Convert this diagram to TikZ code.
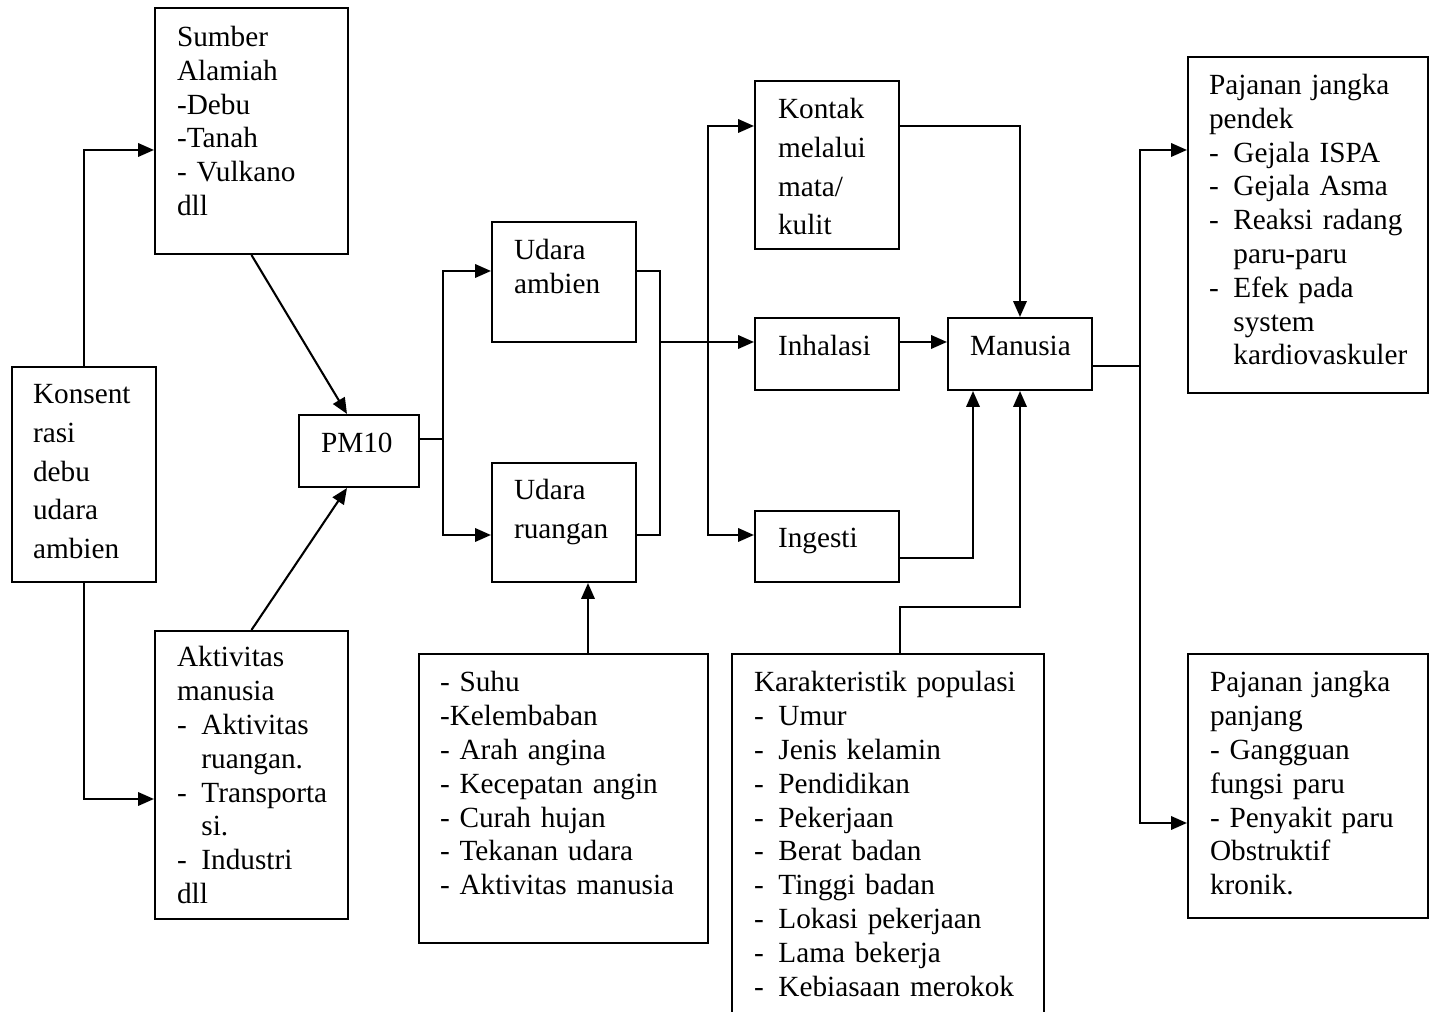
\documentclass[tikz,border=0pt]{standalone}
\usepackage{fontspec}
\setmainfont{Liberation Serif}
\usetikzlibrary{arrows.meta,positioning,fit}
\newcommand{\itemdash}{\makebox[10pt][l]{-}}
\newcommand{\itemgap}{\hspace*{10pt}}

\begin{document}
\begin{tikzpicture}[x=0.41pt,y=-0.41pt,line width=.85pt,
  frame/.style={draw,inner sep=0pt},
  txt/.style={anchor=base west,inner sep=0pt,align=left,text width=#1,font=\fontsize{12}{13.85}\selectfont},
  loose/.style={font=\fontsize{12}{15.8}\selectfont},
  arr/.style={-{Triangle[length=6.5pt,width=5.5pt]}}]
\useasboundingbox (0,0) rectangle (1429,1012);

\node[frame,fit={(155,8) (348,254)}] (sumber) {};
\node[frame,fit={(12,367) (156,582)}] (konsent) {};
\node[frame,fit={(155,631) (348,919)}] (aktivitas) {};
\node[frame,fit={(299,415) (419,487)}] (pm) {};
\node[frame,fit={(492,222) (636,342)}] (ambien) {};
\node[frame,fit={(492,463) (636,582)}] (ruangan) {};
\node[frame,fit={(419,654) (708,943)}] (cuaca) {};
\node[frame,fit={(755,81) (899,249)}] (kontak) {};
\node[frame,fit={(755,318) (899,390)}] (inhalasi) {};
\node[frame,fit={(755,511) (899,582)}] (ingesti) {};
\node[frame,fit={(948,318) (1092,390)}] (manusia) {};
\node[frame,fit={(732,654) (1044,1020)}] (karakter) {};
\node[frame,fit={(1188,57) (1428,393)}] (pendek) {};
\node[frame,fit={(1188,654) (1428,918)}] (panjang) {};

\node[txt=70pt] (sumber-t) at (176,46.5) {Sumber\\Alamiah\\-Debu\\-Tanah\\- Vulkano\\dll};
\node[txt=50pt,loose] (konsent-t) at (32,404) {Konsent\\rasi\\debu\\udara\\ambien};
\node[txt=70pt] (aktivitas-t) at (176,667) {Aktivitas\\manusia\\\itemdash Aktivitas\\\itemgap ruangan.\\\itemdash Transporta\\\itemgap si.\\\itemdash Industri\\dll};
\node[txt=40pt] (pm-t) at (320,453) {PM10};
\node[txt=50pt] (ambien-t) at (513,260) {Udara\\ambien};
\node[txt=50pt,loose] (ruangan-t) at (513,500) {Udara\\ruangan};
\node[txt=110pt] (cuaca-t) at (439,692) {- Suhu\\-Kelembaban\\- Arah angina\\- Kecepatan angin\\- Curah hujan\\- Tekanan udara\\- Aktivitas manusia};
\node[txt=50pt,loose] (kontak-t) at (777,119) {Kontak\\melalui\\mata/\\kulit};
\node[txt=50pt] (inhalasi-t) at (777,356) {Inhalasi};
\node[txt=50pt] (ingesti-t) at (777,547.5) {Ingesti};
\node[txt=50pt] (manusia-t) at (969,356) {Manusia};
\node[txt=118pt] (karakter-t) at (753,692) {Karakteristik populasi\\\itemdash Umur\\\itemdash Jenis kelamin\\\itemdash Pendidikan\\\itemdash Pekerjaan\\\itemdash Berat badan\\\itemdash Tinggi badan\\\itemdash Lokasi pekerjaan\\\itemdash Lama bekerja\\\itemdash Kebiasaan merokok};
\node[txt=90pt] (pendek-t) at (1208,94.6) {Pajanan jangka\\pendek\\\itemdash Gejala ISPA\\\itemdash Gejala Asma\\\itemdash Reaksi radang\\\itemgap paru-paru\\\itemdash Efek pada\\\itemgap system\\\itemgap kardiovaskuler};
\node[txt=90pt] (panjang-t) at (1209,692) {Pajanan jangka\\panjang\\- Gangguan\\fungsi paru\\- Penyakit paru\\Obstruktif\\kronik.};

\draw[arr] (konsent.north) |- (sumber.west |- 0,150);
\draw[arr] (konsent.south) |- (aktivitas.west |- 0,799);
\draw[arr] (sumber.south) -- (pm.north -| 347,0);
\draw[arr] (aktivitas.north) -- (pm.south -| 347,0);
\coordinate (pmsplit) at (443,439);
\draw (pm.east |- pmsplit) -- (pmsplit);
\draw[arr] (pmsplit) |- (ambien.west |- 0,271);
\draw[arr] (pmsplit) |- (ruangan.west |- 0,535);
\draw[arr] (cuaca.north -| 588,0) -- (ruangan.south -| 588,0);
\coordinate (udarajoin) at (660,342);
\draw (ambien.east |- 0,271) -| (udarajoin |- 0,535) -- (ruangan.east |- 0,535);
\draw[arr] (udarajoin) -- (inhalasi.west |- udarajoin);
\coordinate (jalur) at (708,342);
\draw[arr] (jalur) |- (kontak.west |- 0,126);
\draw[arr] (jalur) |- (ingesti.west |- 0,535);
\draw[arr] (kontak.east |- 0,126) -| (manusia.north);
\draw[arr] (inhalasi.east |- udarajoin) -- (manusia.west |- udarajoin);
\draw[arr] (ingesti.east |- 0,558) -| (manusia.south -| 973,0);
\draw[arr] (karakter.north -| 900,0) |- (manusia.south |- 0,607) -- (manusia.south);
\coordinate (efek) at (1140,366);
\draw (manusia.east |- efek) -- (efek);
\draw[arr] (efek) |- (pendek.west |- 0,150);
\draw[arr] (efek) |- (panjang.west |- 0,823);
\end{tikzpicture}
\end{document}
